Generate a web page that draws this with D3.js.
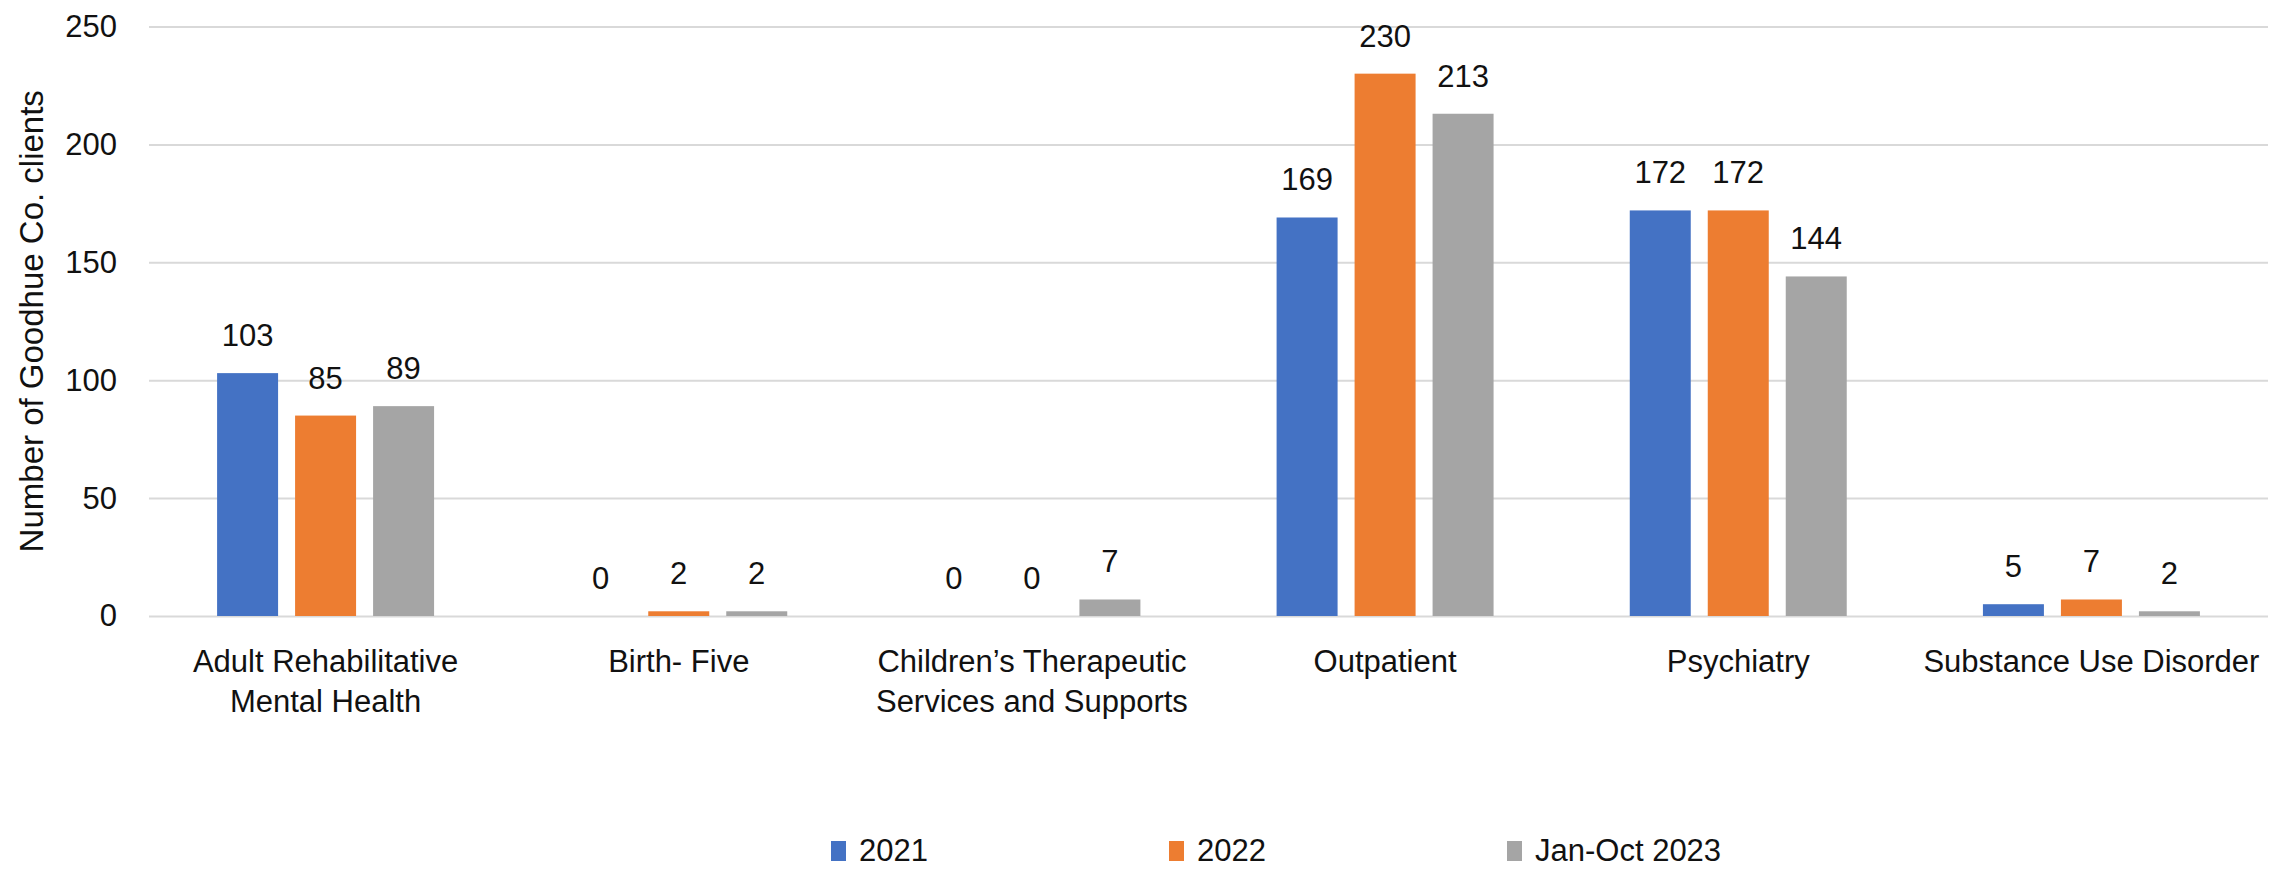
<!DOCTYPE html>
<html>
<head>
<meta charset="utf-8">
<script src="https://cdn.jsdelivr.net/npm/d3@7"></script>
<style>
  html, body { margin: 0; padding: 0; background: #ffffff; }
  svg { display: block; }
  text { font-family: "Liberation Sans", Arial, sans-serif; fill: #111111; }
</style>
</head>
<body>
<svg id="chart" width="2287" height="869"></svg>
<script>
// Program categories (line breaks mark wrapped axis labels)
const categories = [
  "Adult Rehabilitative\nMental Health",
  "Birth- Five",
  "Children’s Therapeutic\nServices and Supports",
  "Outpatient",
  "Psychiatry",
  "Substance Use Disorder"
];

// Series names and client counts per category
const seriesNames = ["2021", "2022", "Jan-Oct 2023"];
const values2021 = [103, 0, 0, 169, 172, 5];
const values2022 = [85, 2, 0, 230, 172, 7];
const valuesJanOct2023 = [89, 2, 7, 213, 144, 2];
const seriesValues = [values2021, values2022, valuesJanOct2023];
const seriesColors = ["#4472C4", "#ED7D31", "#A5A5A5"];

// Value axis
const yTicks = [0, 50, 100, 150, 200, 250];
const yTitle = "Number of Goodhue Co. clients";

const svg = d3.select("#chart");
const plotLeft = 149, plotRight = 2268, plotTop = 26.5, plotBottom = 616;

const x0 = d3.scaleBand().domain(categories).range([plotLeft, plotRight]).padding(0);
const x1 = d3.scaleBand().domain(seriesNames).range([0, x0.bandwidth()])
  .paddingInner(0.218).paddingOuter(0.873);
const y = d3.scaleLinear().domain([0, 250]).range([plotBottom, plotTop]);
const color = d3.scaleOrdinal().domain(seriesNames).range(seriesColors);

// Gridlines and tick labels
const yAxis = svg.append("g")
  .attr("transform", `translate(${plotLeft},0)`)
  .call(d3.axisLeft(y).tickValues(yTicks).tickSize(-(plotRight - plotLeft)).tickPadding(32));
yAxis.select(".domain").remove();
yAxis.selectAll(".tick line").attr("stroke", "#D9D9D9").attr("stroke-width", 2);
yAxis.selectAll(".tick text")
  .attr("font-size", 31)
  .attr("font-family", "Liberation Sans, Arial, sans-serif")
  .attr("fill", "#111111");

// Axis title
svg.append("text")
  .attr("transform", `translate(43,${(plotTop + plotBottom) / 2}) rotate(-90)`)
  .attr("text-anchor", "middle")
  .attr("font-size", 33)
  .text(yTitle);

// Bars
const rows = categories.map((c, i) => ({
  category: c,
  items: seriesNames.map((s, k) => ({ series: s, value: seriesValues[k][i] }))
}));

const groups = svg.append("g").selectAll("g")
  .data(rows)
  .join("g")
  .attr("transform", d => `translate(${x0(d.category)},0)`);

groups.selectAll("rect")
  .data(d => d.items)
  .join("rect")
  .attr("x", d => x1(d.series))
  .attr("y", d => y(d.value))
  .attr("width", x1.bandwidth())
  .attr("height", d => y(0) - y(d.value))
  .attr("fill", d => color(d.series));

// Value labels
groups.selectAll("text.value")
  .data(d => d.items)
  .join("text")
  .attr("class", "value")
  .attr("x", d => x1(d.series) + x1.bandwidth() / 2)
  .attr("y", d => y(d.value) - 27)
  .attr("text-anchor", "middle")
  .attr("font-size", 31)
  .text(d => d.value);

// Category labels
const catLabels = svg.append("g").selectAll("text")
  .data(categories)
  .join("text")
  .attr("text-anchor", "middle")
  .attr("font-size", 31)
  .attr("x", d => x0(d) + x0.bandwidth() / 2)
  .attr("y", 672);
catLabels.selectAll("tspan")
  .data(d => d.split("\n"))
  .join("tspan")
  .attr("x", function () { return d3.select(this.parentNode).attr("x"); })
  .attr("dy", (d, i) => i === 0 ? 0 : 40)
  .text(d => d);

// Legend
const legendX = d3.scalePoint().domain(seriesNames).range([831, 1507]);
const legend = svg.append("g").selectAll("g")
  .data(seriesNames)
  .join("g")
  .attr("transform", d => `translate(${legendX(d)},0)`);
legend.append("rect")
  .attr("x", 0).attr("y", 841)
  .attr("width", 15).attr("height", 20)
  .attr("fill", d => color(d));
legend.append("text")
  .attr("x", 28).attr("y", 861)
  .attr("font-size", 31)
  .text(d => d);
</script>
</body>
</html>
